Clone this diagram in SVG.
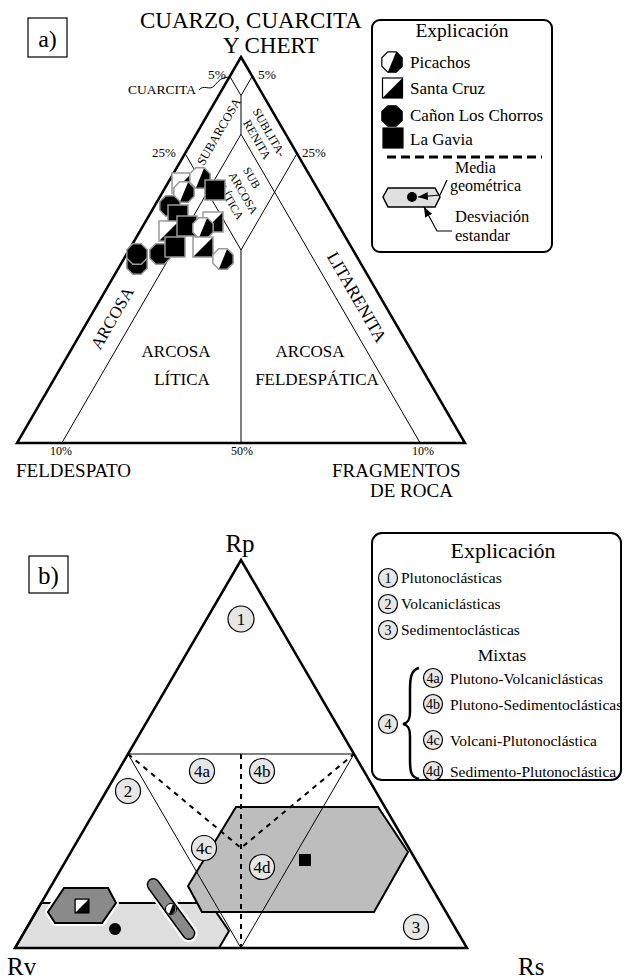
<svg xmlns="http://www.w3.org/2000/svg" width="628" height="979" viewBox="0 0 628 979">
<style>
text{font-family:"Liberation Serif","Times New Roman",serif;fill:#000}
.thick{fill:none;stroke:#000;stroke-width:2.5;stroke-linejoin:miter}
.thin{fill:none;stroke:#000;stroke-width:1}
.dash{fill:none;stroke:#000;stroke-width:2;stroke-dasharray:5 5}
.box{fill:#fff;stroke:#000;stroke-width:2}
.lbl{fill:#e6e6e6;stroke:#000;stroke-width:1.2}
.num{font-size:17px;text-anchor:middle}
.lnum{font-size:14px;text-anchor:middle}
.leg{font-size:17px}
.legb{font-size:15.5px}
.mid{text-anchor:middle}
.halo{stroke:#fff;stroke-width:6;stroke-linejoin:round}
</style>
<defs>
<polygon id="oct" points="10.16,4.21 4.21,10.16 -4.21,10.16 -10.16,4.21 -10.16,-4.21 -4.21,-10.16 4.21,-10.16 10.16,-4.21"/>
<g id="sym-pic"><use href="#oct" fill="#fff" stroke="none"/><polygon points="4.21,-10.16 10.16,-4.21 10.16,4.21 4.21,10.16 -4.21,10.16" fill="#000" stroke="none"/><use href="#oct" fill="none"/></g>
<g id="sym-sc"><rect x="-10" y="-10" width="20" height="20" fill="#fff" stroke="none"/><polygon points="10,-10 10,10 -10,10" fill="#000" stroke="none"/><rect x="-10" y="-10" width="20" height="20" fill="none"/></g>
<use id="sym-cl" href="#oct" fill="#000"/>
<rect id="sym-lg" x="-10" y="-10" width="20" height="20" fill="#000"/>
<marker id="arr" viewBox="0 0 10 8" refX="10" refY="4" markerWidth="10" markerHeight="8" markerUnits="userSpaceOnUse" orient="auto"><path d="M0,0 L10,4 L0,8 z" fill="#000"/></marker>
</defs>
<rect width="628" height="979" fill="#fff"/>

<!-- ===== Panel a ===== -->
<g id="panel-a-label">
<rect x="28" y="18" width="39" height="39" fill="none" stroke="#000" stroke-width="1.2"/>
<text x="47.5" y="47" font-size="24" class="mid">a)</text>
</g>
<g id="apex-a-title">
<text x="140" y="28" font-size="23">CUARZO, CUARCITA</text>
<text x="223" y="53" font-size="23">Y CHERT</text>
</g>
<g id="triangle-a">
<polyline class="thin" points="229.8,76.3 241,95.6 252.2,76.3"/>
<line class="thin" x1="241" y1="95.6" x2="241" y2="134.2"/>
<polyline class="thin" points="61.8,443 241,134.2 420.2,443"/>
<polyline class="thin" points="185,153.5 241,250 297,153.5"/>
<line class="thin" x1="241" y1="250" x2="241" y2="443"/>
<polygon class="thick" points="241,57 465,443 17,443"/>
</g>
<g id="triangle-a-labels">
<text x="208" y="79" font-size="13.5">5%</text>
<text x="258" y="79" font-size="13.5">5%</text>
<text x="128" y="94" font-size="13.5">CUARCITA</text>
<text x="152" y="157" font-size="13">25%</text>
<text x="302" y="157" font-size="13">25%</text>
<text transform="translate(218.5,131.5) rotate(-60)" y="4.5" font-size="12.5" class="mid">SUBARCOSA</text>
<g transform="translate(263,136) rotate(60)" font-size="12">
<text y="-3" class="mid">SUBLITA-</text>
<text y="11" class="mid">RENITA</text>
</g>
<g transform="translate(241,191) rotate(60)" font-size="11.5">
<text x="-6" y="-12" class="mid">SUB</text>
<text x="3" y="3" class="mid">ARCOSA</text>
<text x="5" y="18" class="mid">LÍTICA</text>
</g>
<text transform="translate(112,318) rotate(-60)" y="6" font-size="17" class="mid">ARCOSA</text>
<text transform="translate(357,297) rotate(60)" y="6" font-size="17.5" class="mid">LITARENITA</text>
<text x="176" y="357" font-size="17" class="mid">ARCOSA</text>
<text x="182" y="385" font-size="17" class="mid">LÍTICA</text>
<text x="310" y="357" font-size="17" class="mid">ARCOSA</text>
<text x="317" y="385" font-size="17" class="mid">FELDESPÁTICA</text>
<text x="61" y="455" font-size="12" class="mid">10%</text>
<text x="242" y="455" font-size="12" class="mid">50%</text>
<text x="423" y="455" font-size="12" class="mid">10%</text>
<text x="16" y="477" font-size="19">FELDESPATO</text>
<text x="332" y="477" font-size="19">FRAGMENTOS</text>
<text x="370" y="497" font-size="19">DE ROCA</text>
</g>
<g id="samples-a" stroke="#999" stroke-width="1.5">
<use href="#sym-cl" x="137" y="264"/>
<use href="#sym-cl" x="137" y="254"/>
<use href="#sym-cl" x="160" y="254"/>
<use href="#sym-sc" x="182" y="183"/>
<use href="#sym-pic" x="184" y="192"/>
<use href="#sym-pic" x="200" y="178"/>
<use href="#sym-lg" x="215" y="190"/>
<use href="#sym-cl" x="170" y="206"/>
<use href="#sym-lg" x="178" y="215"/>
<use href="#sym-sc" x="169" y="231"/>
<use href="#sym-lg" x="187" y="226"/>
<use href="#sym-sc" x="213" y="222"/>
<use href="#sym-pic" x="203" y="228"/>
<use href="#sym-lg" x="175" y="247"/>
<use href="#sym-sc" x="203" y="247"/>
<use href="#sym-pic" x="223" y="259"/>
</g>

<g id="legend-a">
<rect class="box" x="372" y="20" width="180" height="232" rx="8"/>
<text x="462" y="37" font-size="19.5" class="mid">Explicación</text>
<g stroke="#000" stroke-width="1.2">
<use href="#sym-pic" x="392" y="62"/>
<use href="#sym-sc" x="392.5" y="88"/>
<use href="#sym-cl" x="392" y="116"/>
<use href="#sym-lg" x="393" y="138"/>
</g>
<text x="410" y="68" class="leg">Picachos</text>
<text x="410" y="94" class="leg">Santa Cruz</text>
<text x="410" y="121" class="leg">Cañon Los Chorros</text>
<text x="410" y="145" class="leg">La Gavia</text>
<line x1="387" y1="157" x2="542" y2="157" stroke="#000" stroke-width="3" stroke-dasharray="9 5"/>
<polygon points="383,197 388,188 435,188 440,197 435,207 388,207" fill="#e0e0e0" stroke="#000" stroke-width="1.5"/>
<circle cx="412" cy="197" r="5" fill="#000"/>
<text x="455" y="173" font-size="16">Media</text>
<text x="450" y="191" font-size="16">geométrica</text>
<text x="455" y="222" font-size="16.5">Desviación</text>
<text x="455" y="241" font-size="16.5">estandar</text>
</g>

<!-- ===== Panel b ===== -->
<g id="panel-b-label">
<rect x="29" y="556" width="39" height="37" fill="none" stroke="#000" stroke-width="1.2"/>
<text x="48.5" y="584" font-size="25" class="mid">b)</text>
</g>
<g id="triangle-b">
<polygon points="41,903 205,903 216,912 229,931 219,948 15,948" fill="#dedede" stroke="#000" stroke-width="2"/>
<polygon id="field-lagavia" points="236,807 378,807 408,852 374,912 202,912 188,886" fill="#bdbdbd" stroke="#000" stroke-width="2"/>
<line class="thin" x1="128" y1="754" x2="354" y2="754"/>
<polyline class="thin" points="128,754 241,948 354,754"/>
<polyline class="dash" points="128,754 241,848 354,754"/>
<line class="dash" x1="241" y1="754" x2="241" y2="948"/>
<polygon class="thick" points="241,560 467,948 15,948"/>
</g>
<g id="fields-b">
<polygon class="halo" points="64,888 108,888 116,903 102,923 55,923 48,912" fill="none"/>
<polygon points="64,888 108,888 116,903 102,923 55,923 48,912" fill="#8a8a8a" stroke="#000" stroke-width="2"/>
<g transform="translate(171,909) rotate(54)">
<rect class="halo" x="-36" y="-6" width="72" height="12" rx="6" fill="none"/>
<rect x="-36" y="-6" width="72" height="12" rx="6" fill="#8a8a8a" stroke="#000" stroke-width="1.5"/>
</g>
<g id="mean-santacruz">
<rect x="74" y="898" width="16" height="16" fill="#fff"/>
<polygon points="89,899 89,913 75,913" fill="#000"/>
<rect x="75" y="899" width="14" height="14" fill="none" stroke="#000" stroke-width="1.5"/>
</g>
<circle id="mean-canon" cx="115" cy="929" r="6" fill="#000"/>
<g id="mean-picachos">
<circle cx="171" cy="909" r="5.5" fill="#fff" stroke="#000" stroke-width="1"/>
<path d="M173,904 A5.5,5.5 0 0 1 169,914 z" fill="#000"/>
</g>
<rect id="mean-lagavia" x="299" y="854" width="12" height="12" fill="#000"/>
</g>
<g id="fields-b-labels">
<circle class="lbl" cx="241" cy="619" r="13"/><text x="241" y="625" class="num">1</text>
<circle class="lbl" cx="128" cy="791" r="12.5"/><text x="128" y="797" class="num">2</text>
<circle class="lbl" cx="416" cy="927" r="12.5"/><text x="416" y="933" class="num">3</text>
<circle class="lbl" cx="202" cy="771" r="12.5"/><text x="202" y="777" class="num" font-size="16">4a</text>
<circle class="lbl" cx="262" cy="771" r="12.5"/><text x="262" y="777" class="num" font-size="16">4b</text>
<circle class="lbl" cx="204" cy="848" r="12.5"/><text x="204" y="854" class="num" font-size="16">4c</text>
<circle class="lbl" cx="262" cy="867" r="12.5"/><text x="262" y="873" class="num" font-size="16">4d</text>
</g>
<g id="vertices-b">
<text x="240" y="552" font-size="25" class="mid">Rp</text>
<text x="7" y="975" font-size="25">Rv</text>
<text x="518" y="975" font-size="25">Rs</text>
</g>

<g id="legend-b">
<rect class="box" x="372" y="533" width="249" height="247" rx="10"/>
<text x="503" y="558" font-size="22" class="mid">Explicación</text>
<circle class="lbl" cx="388" cy="578" r="9.5"/><text x="388" y="583" class="lnum">1</text>
<text x="401" y="583" class="legb">Plutonoclásticas</text>
<circle class="lbl" cx="388" cy="604" r="9.5"/><text x="388" y="609" class="lnum">2</text>
<text x="401" y="609" class="legb">Volcaniclásticas</text>
<circle class="lbl" cx="388" cy="630" r="9.5"/><text x="388" y="635" class="lnum">3</text>
<text x="401" y="635" class="legb">Sedimentoclásticas</text>
<text x="502" y="661" font-size="17.5" class="mid">Mixtas</text>
<circle class="lbl" cx="388" cy="724" r="9.5"/><text x="388" y="729" class="lnum">4</text>
<path d="M419,668 C411,670 410,678 410,690 L410,712 C410,720 408,723 403,724 C408,725 410,728 410,736 L410,760 C410,772 411,777 419,779" fill="none" stroke="#000" stroke-width="2.5"/>
<circle class="lbl" cx="433" cy="678" r="9.5"/><text x="433" y="683" class="lnum">4a</text>
<text x="450" y="684" class="legb">Plutono-Volcaniclásticas</text>
<circle class="lbl" cx="433" cy="704" r="9.5"/><text x="433" y="709" class="lnum">4b</text>
<text x="450" y="710" class="legb">Plutono-Sedimentoclásticas</text>
<circle class="lbl" cx="433" cy="740" r="9.5"/><text x="433" y="745" class="lnum">4c</text>
<text x="450" y="746" class="legb">Volcani-Plutonoclástica</text>
<circle class="lbl" cx="433" cy="771" r="9.5"/><text x="433" y="776" class="lnum">4d</text>
<text x="450" y="777" class="legb">Sedimento-Plutonoclástica</text>
</g>

<g id="connectors">
<path d="M199,90 C204,84 209,91 214,86 C218,82 220,77 231,77" fill="none" stroke="#000" stroke-width="1"/>
<polyline points="447,180 440,195 418,197" fill="none" stroke="#000" stroke-width="1.2" marker-end="url(#arr)"/>
<polyline points="452,231 437,231 424,207" fill="none" stroke="#000" stroke-width="1.2" marker-end="url(#arr)"/>
</g>
</svg>
